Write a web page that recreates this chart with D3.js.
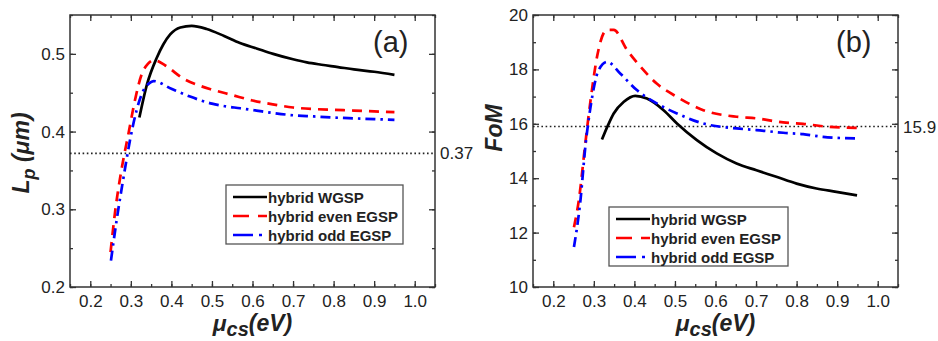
<!DOCTYPE html>
<html>
<head>
<meta charset="utf-8">
<script src="https://cdn.jsdelivr.net/npm/d3@7"></script>
<style>
  body { margin: 0; background: #fff; }
  svg text { font-family: "Liberation Sans", Arial, sans-serif; fill: #222; }
</style>
</head>
<body>
<svg id="chart" width="938" height="341"></svg>
<script>
// x ticks shared by both panels
const xTicks = [0.2, 0.3, 0.4, 0.5, 0.6, 0.7, 0.8, 0.9, 1.0];
const legendLabels = ["hybrid WGSP", "hybrid even EGSP", "hybrid odd EGSP"];

// panel (a): Lp (um)
const wgspAx = [0.321, 0.34, 0.364, 0.38, 0.397, 0.422, 0.45, 0.487, 0.53, 0.569, 0.61, 0.651, 0.7, 0.734, 0.77, 0.811, 0.85, 0.9, 0.95];
const wgspAy = [0.418, 0.461, 0.495, 0.512, 0.525, 0.534, 0.536, 0.532, 0.523, 0.514, 0.507, 0.500, 0.493, 0.489, 0.486, 0.483, 0.480, 0.477, 0.473];
const evenAx = [0.25, 0.262, 0.278, 0.294, 0.31, 0.327, 0.342, 0.357, 0.385, 0.43, 0.47, 0.5, 0.55, 0.6, 0.65, 0.7, 0.75, 0.8, 0.85, 0.9, 0.95];
const evenAy = [0.245, 0.3, 0.354, 0.397, 0.44, 0.474, 0.487, 0.492, 0.485, 0.468, 0.459, 0.454, 0.447, 0.44, 0.435, 0.431, 0.429, 0.428, 0.427, 0.426, 0.425];
const oddAx = [0.251, 0.265, 0.282, 0.298, 0.314, 0.33, 0.345, 0.356, 0.4, 0.446, 0.5, 0.528, 0.57, 0.61, 0.65, 0.7, 0.734, 0.8, 0.85, 0.9, 0.95];
const oddAy = [0.234, 0.286, 0.341, 0.389, 0.427, 0.452, 0.462, 0.465, 0.455, 0.445, 0.436, 0.433, 0.43, 0.427, 0.424, 0.421, 0.42, 0.418, 0.417, 0.416, 0.415];
const refA = 0.372;

// panel (b): FoM
const wgspBx = [0.32, 0.335, 0.349, 0.374, 0.402, 0.431, 0.472, 0.505, 0.554, 0.603, 0.652, 0.701, 0.75, 0.8, 0.849, 0.898, 0.949];
const wgspBy = [15.42, 15.95, 16.38, 16.81, 17.03, 16.93, 16.5, 16.01, 15.4, 14.91, 14.54, 14.29, 14.05, 13.8, 13.62, 13.5, 13.37];
const evenBx = [0.251, 0.263, 0.279, 0.292, 0.308, 0.324, 0.333, 0.349, 0.382, 0.415, 0.455, 0.505, 0.57, 0.652, 0.701, 0.767, 0.816, 0.865, 0.949];
const evenBy = [12.2, 13.19, 15.28, 16.87, 18.47, 19.33, 19.45, 19.45, 18.71, 18.1, 17.48, 16.99, 16.5, 16.26, 16.2, 16.05, 16.0, 15.91, 15.85];
const oddBx = [0.251, 0.267, 0.279, 0.292, 0.312, 0.333, 0.365, 0.406, 0.455, 0.505, 0.57, 0.652, 0.701, 0.767, 0.816, 0.865, 0.949];
const oddBy = [11.47, 13.19, 15.15, 16.63, 17.98, 18.28, 17.85, 17.24, 16.75, 16.38, 16.01, 15.83, 15.77, 15.67, 15.62, 15.52, 15.46];
const refB = 15.9;

const svg = d3.select("#chart");
const styles = [
    { color: "#000", dash: null, legDash: null },
    { color: "#f00", dash: "10,7", legDash: "16,9" },
    { color: "#00f", dash: "10,5,2.5,5", legDash: "20,6,3,10" }
];

function drawPanel(p) {
    const g = svg.append("g");
    const x = d3.scaleLinear().domain([0.15, 1.05]).range([p.left, p.right]);
    const y = d3.scaleLinear().domain(p.yDomain).range([287, 15]);

    const xMinor = d3.range(0.15, 1.051, 0.05);
    const yMinor = d3.range(p.yDomain[0], p.yDomain[1] + 1e-9, p.yMinorStep);

    // minor ticks on all four sides
    g.append("g").attr("transform", "translate(0,287)")
        .call(d3.axisBottom(x).tickValues(xMinor).tickSize(-3).tickFormat(""));
    g.append("g").attr("transform", "translate(0,15)")
        .call(d3.axisTop(x).tickValues(xMinor).tickSize(-3).tickFormat(""));
    g.append("g").attr("transform", `translate(${p.left},0)`)
        .call(d3.axisLeft(y).tickValues(yMinor).tickSize(-3).tickFormat(""));
    g.append("g").attr("transform", `translate(${p.right},0)`)
        .call(d3.axisRight(y).tickValues(yMinor).tickSize(-3).tickFormat(""));

    // major ticks
    g.append("g").attr("transform", "translate(0,287)")
        .call(d3.axisBottom(x).tickValues(xTicks).tickSize(-6).tickPadding(8).tickFormat(d3.format(".1f")));
    g.append("g").attr("transform", "translate(0,15)")
        .call(d3.axisTop(x).tickValues(xTicks).tickSize(-6).tickFormat(""));
    g.append("g").attr("transform", `translate(${p.left},0)`)
        .call(d3.axisLeft(y).tickValues(p.yTicks).tickSize(-6).tickPadding(5).tickFormat(p.yFormat));
    g.append("g").attr("transform", `translate(${p.right},0)`)
        .call(d3.axisRight(y).tickValues(p.yTicks).tickSize(-6).tickFormat(""));

    g.selectAll(".domain").remove();
    g.selectAll(".tick line").attr("stroke", "#333").attr("stroke-width", 1.3);
    g.selectAll(".tick text").style("font-size", "17px").attr("fill", "#222");

    // frame
    g.append("rect")
        .attr("x", p.left).attr("y", 15)
        .attr("width", p.right - p.left).attr("height", 272)
        .attr("fill", "none").attr("stroke", "#333").attr("stroke-width", 1.5);

    // reference dotted line
    g.append("line")
        .attr("x1", p.left).attr("x2", p.right)
        .attr("y1", y(p.ref)).attr("y2", y(p.ref))
        .attr("stroke", "#222").attr("stroke-width", 1.6)
        .attr("stroke-dasharray", "1.6,2.6");
    g.append("text")
        .attr("x", p.right + 5).attr("y", y(p.ref) + 6)
        .style("font-size", "17px")
        .text(p.refLabel);

    // curves
    const line = d3.line()
        .x(d => x(d[0]))
        .y(d => y(d[1]))
        .curve(d3.curveMonotoneX);

    p.series.forEach((s, i) => {
        g.append("path")
            .datum(d3.zip(s[0], s[1]))
            .attr("d", line)
            .attr("fill", "none")
            .attr("stroke", styles[i].color)
            .attr("stroke-width", 2.7)
            .attr("stroke-dasharray", styles[i].dash);
    });

    // panel tag
    g.append("text")
        .attr("x", p.tagX).attr("y", 52)
        .style("font-size", "29px")
        .text(p.tag);

    // legend
    const lg = g.append("g").attr("transform", `translate(${p.legX},${p.legY})`);
    lg.append("rect")
        .attr("width", p.legW).attr("height", 59)
        .attr("fill", "#fff").attr("stroke", "#555").attr("stroke-width", 1.3);
    legendLabels.forEach((lab, i) => {
        const cy = 12 + i * 19;
        lg.append("line")
            .attr("x1", 7).attr("x2", 41)
            .attr("y1", cy).attr("y2", cy)
            .attr("stroke", styles[i].color)
            .attr("stroke-width", 2.7)
            .attr("stroke-dasharray", styles[i].legDash);
        lg.append("text")
            .attr("x", 42).attr("y", cy + 5.5)
            .style("font-size", "15px")
            .style("font-weight", "bold")
            .text(lab);
    });

    // x axis title: mu_cs (eV)
    const xt = g.append("text")
        .attr("x", (p.left + p.right) / 2).attr("y", 331)
        .attr("text-anchor", "middle")
        .style("font-size", "23px")
        .style("font-weight", "bold")
        .style("font-style", "italic");
    xt.append("tspan").text("μ");
    xt.append("tspan").attr("dy", 5).style("font-size", "20px").text("cs");
    xt.append("tspan").attr("dy", -5).text("(eV)");

    // y axis title
    const yt = g.append("text")
        .attr("transform", `translate(${p.yTitleX},${p.yTitleY}) rotate(-90)`)
        .attr("text-anchor", "middle")
        .style("font-size", "23px")
        .style("font-weight", "bold")
        .style("font-style", "italic");
    p.yTitle(yt);
}

drawPanel({
    left: 70, right: 435,
    yDomain: [0.2, 0.55], yTicks: [0.2, 0.3, 0.4, 0.5], yMinorStep: 0.05,
    yFormat: d3.format(".1f"),
    ref: refA, refLabel: "0.37",
    series: [[wgspAx, wgspAy], [evenAx, evenAy], [oddAx, oddAy]],
    tag: "(a)", tagX: 373,
    legX: 226, legY: 185, legW: 177,
    yTitleX: 29, yTitleY: 153,
    yTitle: t => {
        t.append("tspan").text("L");
        t.append("tspan").attr("dy", 6).style("font-size", "18px").text("p");
        t.append("tspan").attr("dy", -6).text(" (μm)");
    }
});

drawPanel({
    left: 533, right: 898,
    yDomain: [10, 20], yTicks: [10, 12, 14, 16, 18, 20], yMinorStep: 1,
    yFormat: d3.format("d"),
    ref: refB, refLabel: "15.9",
    series: [[wgspBx, wgspBy], [evenBx, evenBy], [oddBx, oddBy]],
    tag: "(b)", tagX: 836,
    legX: 609, legY: 207, legW: 179,
    yTitleX: 502, yTitleY: 128,
    yTitle: t => { t.text("FoM"); }
});
</script>
</body>
</html>
